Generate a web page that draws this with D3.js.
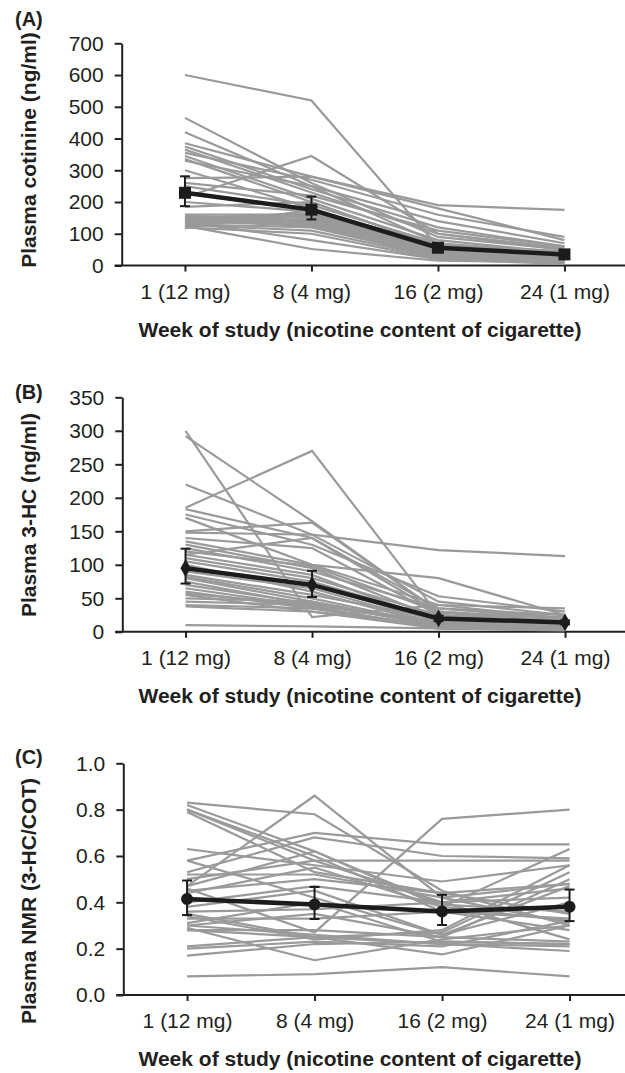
<!DOCTYPE html>
<html>
<head>
<meta charset="utf-8">
<script src="https://cdn.jsdelivr.net/npm/d3@7"></script>
<style>
  body { margin: 0; background: #fff; }
  svg text { font-family: "Liberation Sans", Arial, sans-serif; fill: #231f20; }
</style>
</head>
<body>
<div id="my_dataviz"></div>
<script>
// categories on the x axis
var weeks = ['1 (12 mg)', '8 (4 mg)', '16 (2 mg)', '24 (1 mg)'];

// (A) plasma cotinine, one row per subject (weeks 1, 8, 16, 24)
var cotinine = [
  [600, 520, 60, 40], [465, 260, 90, 50], [420, 250, 70, 40], [385, 280, 180, 80],
  [375, 240, 120, 60], [365, 230, 100, 55], [355, 270, 160, 90], [345, 210, 80, 40],
  [335, 200, 60, 30], [330, 250, 140, 70], [300, 180, 50, 25], [275, 280, 190, 175],
  [260, 220, 110, 60], [250, 190, 70, 30], [215, 345, 100, 50], [200, 170, 40, 20],
  [185, 200, 60, 35], [160, 160, 50, 25], [155, 150, 45, 20], [152, 140, 40, 30],
  [150, 135, 35, 15], [148, 165, 55, 30], [145, 130, 30, 20], [140, 125, 25, 10],
  [138, 80, 20, 15], [135, 155, 45, 25], [132, 145, 35, 20], [130, 120, 30, 10],
  [128, 110, 25, 15], [125, 52, 15, 10], [120, 100, 20, 5], [118, 175, 65, 45],
  [155, 140, 50, 30], [145, 160, 40, 25]
];
var cotinineMean = [229, 176, 56, 35];
var cotinineLo = [187, 145, 50, 31];
var cotinineHi = [281, 217, 62, 40];

// (B) plasma 3-HC
var hc = [
  [300, 22, 40, 20], [292, 165, 30, 15], [220, 145, 45, 25], [185, 270, 25, 10],
  [183, 140, 35, 20], [175, 130, 53, 30], [170, 100, 40, 35], [150, 163, 30, 15],
  [148, 145, 122, 113], [140, 125, 25, 10], [135, 100, 80, 25], [130, 95, 20, 12],
  [125, 90, 35, 25], [120, 98, 30, 20], [115, 85, 15, 10], [110, 80, 25, 18],
  [105, 75, 20, 15], [100, 60, 10, 5], [95, 70, 15, 10], [90, 65, 12, 8],
  [85, 55, 20, 15], [82, 50, 10, 5], [80, 45, 8, 5], [75, 40, 15, 10],
  [70, 42, 10, 8], [65, 38, 5, 3], [60, 35, 8, 5], [57, 40, 12, 10],
  [55, 30, 5, 2], [50, 45, 10, 5], [45, 40, 15, 12], [40, 35, 5, 3],
  [38, 30, 8, 4], [10, 8, 5, 3], [115, 140, 28, 22]
];
var hcMean = [95, 70, 20, 14];
var hcLo = [72, 52, 16, 11];
var hcHi = [124, 91, 24, 17];

// (C) plasma NMR (3-HC/COT)
var nmr = [
  [0.83, 0.78, 0.45, 0.30], [0.82, 0.62, 0.38, 0.32], [0.80, 0.58, 0.40, 0.24], [0.80, 0.60, 0.36, 0.33],
  [0.79, 0.53, 0.44, 0.35], [0.63, 0.56, 0.49, 0.56], [0.58, 0.42, 0.26, 0.40], [0.58, 0.70, 0.65, 0.65],
  [0.53, 0.68, 0.60, 0.59], [0.50, 0.58, 0.58, 0.58], [0.47, 0.86, 0.42, 0.31], [0.46, 0.27, 0.76, 0.80],
  [0.45, 0.50, 0.44, 0.48], [0.44, 0.55, 0.38, 0.63], [0.40, 0.47, 0.40, 0.46], [0.38, 0.45, 0.26, 0.47],
  [0.36, 0.37, 0.40, 0.42], [0.35, 0.25, 0.27, 0.53], [0.33, 0.33, 0.36, 0.28], [0.31, 0.40, 0.23, 0.22],
  [0.30, 0.26, 0.22, 0.21], [0.30, 0.35, 0.25, 0.23], [0.29, 0.15, 0.24, 0.30], [0.28, 0.28, 0.25, 0.50],
  [0.28, 0.25, 0.22, 0.19], [0.21, 0.25, 0.175, 0.30], [0.20, 0.23, 0.21, 0.32], [0.17, 0.22, 0.23, 0.22],
  [0.08, 0.09, 0.12, 0.08], [0.52, 0.52, 0.42, 0.48], [0.47, 0.62, 0.39, 0.36], [0.34, 0.24, 0.28, 0.56]
];
var nmrMean = [0.414, 0.391, 0.360, 0.381];
var nmrLo = [0.345, 0.328, 0.302, 0.319];
var nmrHi = [0.494, 0.466, 0.432, 0.455];

var xTitle = 'Week of study (nicotine content of cigarette)';

var svg = d3.select("#my_dataviz")
  .append("svg")
  .attr("width", 625)
  .attr("height", 1073);

function paintPanel(p) {
  var x = d3.scalePoint()
    .domain(weeks)
    .range([p.left, p.left + 4 * p.step])
    .padding(0.5);
  var y = d3.scaleLinear()
    .domain([0, p.max])
    .range([p.bottom, p.top]);

  var g = svg.append("g");

  // y axis
  var yAxis = g.append("g")
    .attr("transform", "translate(" + p.left + ",0)")
    .call(d3.axisLeft(y).tickValues(p.ticks).tickFormat(p.fmt).tickSize(7).tickSizeOuter(0).tickPadding(11));
  yAxis.select(".domain").attr("stroke", "#231f20").attr("stroke-width", 2);
  yAxis.selectAll(".tick line").attr("stroke", "#231f20").attr("stroke-width", 2);
  yAxis.selectAll("text").attr("font-size", 21).style("fill", "#231f20");

  // x axis, line runs to the right edge
  var xAxis = g.append("g")
    .attr("transform", "translate(0," + p.bottom + ")")
    .call(d3.axisBottom(x).tickSize(6).tickSizeOuter(0));
  xAxis.select(".domain").remove();
  xAxis.selectAll(".tick line").attr("stroke", "#231f20").attr("stroke-width", 2);
  xAxis.selectAll("text").attr("font-size", 21).attr("y", 33).attr("dy", null).style("fill", "#231f20");
  g.append("line")
    .attr("x1", p.left - 7).attr("x2", 625)
    .attr("y1", p.bottom).attr("y2", p.bottom)
    .attr("stroke", "#231f20").attr("stroke-width", 2);

  var line = d3.line()
    .x(function (d, i) { return x(weeks[i]); })
    .y(function (d) { return y(d); });

  // individual subjects
  g.append("g").selectAll("path")
    .data(p.rows)
    .enter().append("path")
    .attr("d", line)
    .attr("fill", "none")
    .attr("stroke", "#9a9a9a")
    .attr("stroke-width", 2.2);

  // error bars
  var eb = g.append("g").attr("stroke", "#1c1c1c").attr("stroke-width", 2);
  weeks.forEach(function (w, i) {
    eb.append("line").attr("x1", x(w)).attr("x2", x(w)).attr("y1", y(p.lo[i])).attr("y2", y(p.hi[i]));
    eb.append("line").attr("x1", x(w) - 5).attr("x2", x(w) + 5).attr("y1", y(p.lo[i])).attr("y2", y(p.lo[i]));
    eb.append("line").attr("x1", x(w) - 5).attr("x2", x(w) + 5).attr("y1", y(p.hi[i])).attr("y2", y(p.hi[i]));
  });

  // mean line
  g.append("path")
    .datum(p.mean)
    .attr("d", line)
    .attr("fill", "none")
    .attr("stroke", "#1c1c1c")
    .attr("stroke-width", 4.5);

  g.append("g").selectAll("path")
    .data(p.mean)
    .enter().append("path")
    .attr("transform", function (d, i) { return "translate(" + x(weeks[i]) + "," + y(d) + ")"; })
    .attr("d", d3.symbol().type(p.symbol).size(p.symSize))
    .attr("fill", "#1c1c1c");

  // titles
  g.append("text")
    .attr("x", 15).attr("y", p.labelY)
    .attr("font-size", 20).attr("font-weight", "bold")
    .text(p.label);
  g.append("text")
    .attr("transform", "translate(36," + p.yTitleMid + ") rotate(-90)")
    .attr("text-anchor", "middle")
    .attr("font-size", 21).attr("font-weight", "bold")
    .text(p.yTitle);
  g.append("text")
    .attr("x", 360).attr("y", p.bottom + 71)
    .attr("text-anchor", "middle")
    .attr("font-size", 21).attr("font-weight", "bold")
    .text(xTitle);
}

paintPanel({
  label: '(A)', labelY: 26, yTitle: 'Plasma cotinine (ng/ml)', yTitleMid: 150,
  left: 121.7, step: 126.5, top: 43.3, bottom: 265.5, max: 700,
  ticks: d3.range(0, 701, 100), fmt: d3.format("d"),
  rows: cotinine, mean: cotinineMean, lo: cotinineLo, hi: cotinineHi,
  symbol: d3.symbolSquare, symSize: 144
});

paintPanel({
  label: '(B)', labelY: 399, yTitle: 'Plasma 3-HC (ng/ml)', yTitleMid: 515,
  left: 122.3, step: 126.5, top: 397.3, bottom: 631.8, max: 350,
  ticks: d3.range(0, 351, 50), fmt: d3.format("d"),
  rows: hc, mean: hcMean, lo: hcLo, hi: hcHi,
  symbol: d3.symbolDiamond, symSize: 90
});

paintPanel({
  label: '(C)', labelY: 764, yTitle: 'Plasma NMR (3-HC/COT)', yTitleMid: 901,
  left: 123.3, step: 127.5, top: 763.3, bottom: 995, max: 1.0,
  ticks: d3.range(0, 1.01, 0.2), fmt: d3.format(".1f"),
  rows: nmr, mean: nmrMean, lo: nmrLo, hi: nmrHi,
  symbol: d3.symbolCircle, symSize: 113
});
</script>
</body>
</html>
